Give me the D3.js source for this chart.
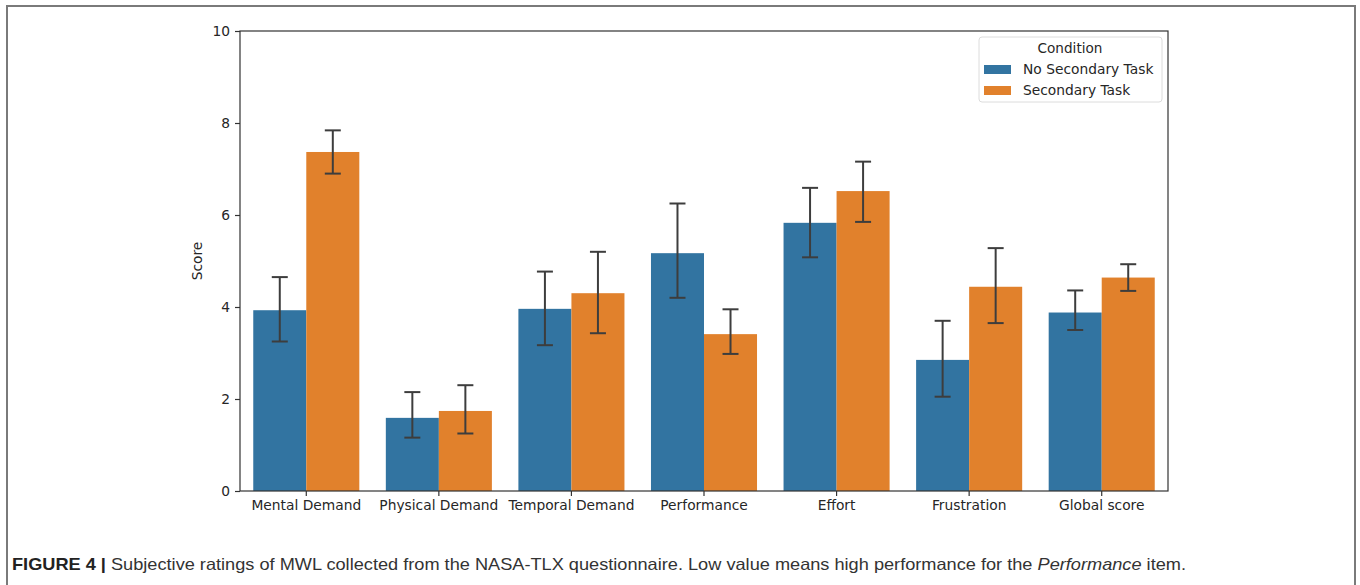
<!DOCTYPE html>
<html>
<head>
<meta charset="utf-8">
<script src="https://cdn.jsdelivr.net/npm/d3@7"></script>
<style>
  body { margin: 0; background: #fff; }
  svg { display: block; }
</style>
</head>
<body>
<div id="chart"></div>
<script>
// values
const categories = ['Mental Demand', 'Physical Demand', 'Temporal Demand', 'Performance', 'Effort', 'Frustration', 'Global score'];
const conditions = ['No Secondary Task', 'Secondary Task'];
const noSecondary = [3.93, 1.59, 3.96, 5.17, 5.83, 2.85, 3.88];
const noSecondaryLow = [3.25, 1.16, 3.17, 4.20, 5.08, 2.05, 3.50];
const noSecondaryHigh = [4.65, 2.15, 4.77, 6.25, 6.59, 3.70, 4.36];
const secondary = [7.37, 1.74, 4.30, 3.41, 6.52, 4.44, 4.64];
const secondaryLow = [6.90, 1.25, 3.43, 2.98, 5.85, 3.65, 4.35];
const secondaryHigh = [7.84, 2.30, 5.20, 3.95, 7.16, 5.28, 4.93];
const yTicks = [0, 2, 4, 6, 8, 10];
const colors = ['#3274a1', '#e1812c'];

const width = 1360, height = 585;
const margin = { top: 31, right: 192, bottom: 94, left: 240 };
const innerW = width - margin.left - margin.right;
const innerH = height - margin.top - margin.bottom;

const rows = [];
categories.forEach((c, i) => {
    rows.push({ cat: c, cond: conditions[0], v: noSecondary[i], lo: noSecondaryLow[i], hi: noSecondaryHigh[i] });
    rows.push({ cat: c, cond: conditions[1], v: secondary[i], lo: secondaryLow[i], hi: secondaryHigh[i] });
});

const svg = d3.select('#chart').append('svg')
    .attr('width', width)
    .attr('height', height);

// page frame
svg.append('path')
    .attr('d', `M7,${height} V6 H1355 V${height}`)
    .attr('fill', 'none')
    .attr('stroke', '#7a7a7a')
    .attr('stroke-width', 2);

const g = svg.append('g').attr('transform', `translate(${margin.left},${margin.top})`);

const x = d3.scaleBand().domain(categories).range([0, innerW]).paddingInner(0).paddingOuter(0);
const groupW = x.bandwidth() * 0.8;
const xSub = d3.scaleBand().domain(conditions).range([0, groupW]);
const y = d3.scaleLinear().domain([0, 10]).range([innerH, 0]);
const color = d3.scaleOrdinal().domain(conditions).range(colors);

const barX = d => x(d.cat) + (x.bandwidth() - groupW) / 2 + xSub(d.cond);

g.selectAll('rect.bar')
    .data(rows)
    .enter()
    .append('rect')
    .attr('class', 'bar')
    .attr('x', barX)
    .attr('width', xSub.bandwidth())
    .attr('y', d => y(d.v))
    .attr('height', d => y(0) - y(d.v))
    .attr('fill', d => color(d.cond));

// error bars
const capW = 8;
const err = g.selectAll('g.err')
    .data(rows)
    .enter()
    .append('g')
    .attr('class', 'err')
    .attr('stroke', '#3d3d3d')
    .attr('stroke-width', 2);
err.append('line')
    .attr('x1', d => barX(d) + xSub.bandwidth() / 2)
    .attr('x2', d => barX(d) + xSub.bandwidth() / 2)
    .attr('y1', d => y(d.lo))
    .attr('y2', d => y(d.hi));
['lo', 'hi'].forEach(k => {
    err.append('line')
        .attr('x1', d => barX(d) + xSub.bandwidth() / 2 - capW)
        .attr('x2', d => barX(d) + xSub.bandwidth() / 2 + capW)
        .attr('y1', d => y(d[k]))
        .attr('y2', d => y(d[k]));
});

// axes
const font = '"DejaVu Sans", sans-serif';
const xAxis = g.append('g')
    .attr('transform', `translate(0,${innerH})`)
    .call(d3.axisBottom(x).tickSize(5).tickPadding(4));
const yAxis = g.append('g')
    .call(d3.axisLeft(y).tickValues(yTicks).tickSize(5).tickPadding(5));
[xAxis, yAxis].forEach(a => {
    a.select('.domain').remove();
    a.selectAll('.tick line').attr('stroke', '#333').attr('stroke-width', 1.2);
    a.selectAll('.tick text').attr('fill', '#262626').style('font-family', font).style('font-size', '13.8px');
});

// plot frame
g.append('rect')
    .attr('width', innerW)
    .attr('height', innerH)
    .attr('fill', 'none')
    .attr('stroke', '#333')
    .attr('stroke-width', 1.2);

g.append('text')
    .attr('transform', `translate(${-38},${innerH / 2}) rotate(-90)`)
    .attr('text-anchor', 'middle')
    .style('font-family', font)
    .style('font-size', '13.8px')
    .attr('fill', '#262626')
    .text('Score');

// legend
const lg = g.append('g').attr('transform', `translate(${innerW - 189},6)`);
lg.append('rect')
    .attr('width', 183)
    .attr('height', 65)
    .attr('rx', 3)
    .attr('fill', '#fff')
    .attr('stroke', '#dcdcdc');
lg.append('text')
    .attr('x', 91)
    .attr('y', 16)
    .attr('text-anchor', 'middle')
    .style('font-family', font)
    .style('font-size', '13.6px')
    .attr('fill', '#262626')
    .text('Condition');
conditions.forEach((c, i) => {
    lg.append('rect')
        .attr('x', 5)
        .attr('y', 28 + i * 21)
        .attr('width', 27)
        .attr('height', 9)
        .attr('fill', color(c));
    lg.append('text')
        .attr('x', 44)
        .attr('y', 37 + i * 21)
        .style('font-family', font)
        .style('font-size', '13.8px')
        .attr('fill', '#262626')
        .text(c);
});

// caption
const cap = svg.append('text')
    .attr('x', 12)
    .attr('y', 570)
    .style('font-family', '"Liberation Sans", Arial, sans-serif')
    .style('font-size', '16.5px')
    .attr('fill', '#333');
cap.append('tspan').style('font-weight', 'bold').attr('fill', '#222').text('FIGURE 4 | ');
cap.append('tspan').text('Subjective ratings of MWL collected from the NASA-TLX questionnaire. Low value means high performance for the ');
cap.append('tspan').style('font-style', 'italic').text('Performance');
cap.append('tspan').text(' item.');
cap.attr('textLength', 1174).attr('lengthAdjust', 'spacingAndGlyphs');
</script>
</body>
</html>
